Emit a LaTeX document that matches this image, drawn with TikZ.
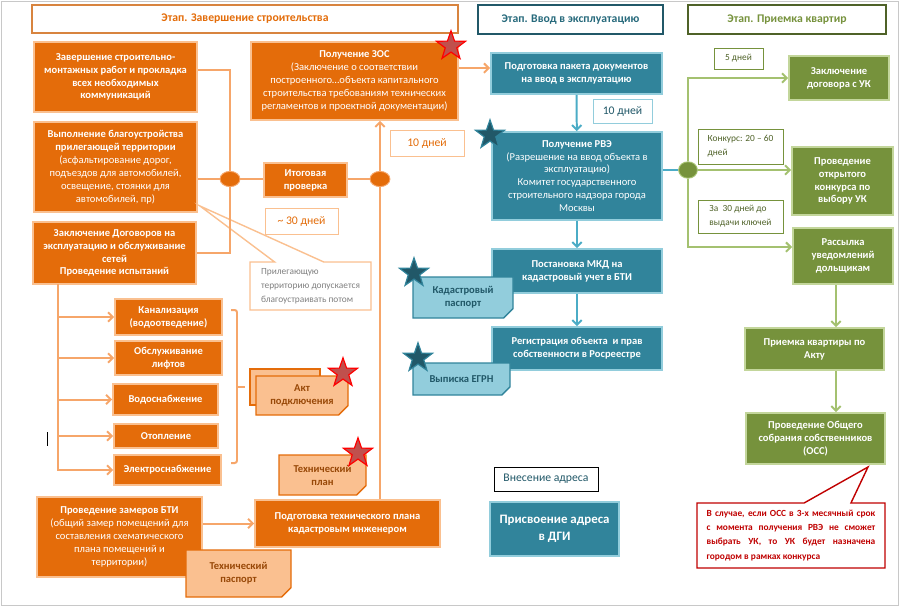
\documentclass[tikz,border=0pt]{standalone}
\usepackage{fontspec}
\setmainfont{Carlito}
\usepackage{tikz}
\usetikzlibrary{arrows.meta,shapes.geometric,shapes.misc,shapes.callouts}

\definecolor{orfill}{HTML}{E46C0A}
\definecolor{orline}{HTML}{FAC090}
\definecolor{orwire}{HTML}{F6A66A}
\definecolor{orhead}{HTML}{D8843F}
\definecolor{ortext}{HTML}{E36C09}
\definecolor{ornotetext}{HTML}{984807}
\definecolor{tlfill}{HTML}{31849B}
\definecolor{tlline}{HTML}{92CDDC}
\definecolor{tlwire}{HTML}{4BACC6}
\definecolor{tldark}{HTML}{215868}
\definecolor{grfill}{HTML}{76923C}
\definecolor{grline}{HTML}{C3D69B}
\definecolor{grwire}{HTML}{A4C170}
\definecolor{grhead}{HTML}{4F6228}
\definecolor{redline}{HTML}{C00000}
\definecolor{starred}{HTML}{C0504D}
\definecolor{framegray}{HTML}{C8C8C8}

\newcommand{\boxfont}{\fontsize{9}{11}\selectfont}
\newcommand{\headfont}{\fontsize{10}{12}\selectfont\bfseries}
\newcommand{\dayfont}{\fontsize{10}{12}\selectfont}
\newcommand{\callfont}{\fontsize{8}{12}\selectfont}

\tikzset{
  every node/.style={inner sep=0pt, align=center},
  spot/.style n args={4}{at={({(#1+#3)/2},{(#2+#4)/2})},
    minimum width={(#3-#1)*0.03cm}, minimum height={(#4-#2)*0.03cm}},
  stage/.style={draw, line width=2pt, fill=white, font=\headfont},
  obox/.style={fill=orfill, draw=orline, line width=1.5pt, text=white, font=\boxfont\bfseries},
  tbox/.style={obox, fill=tlfill, draw=tlline},
  gbox/.style={obox, fill=grfill, draw=grline},
  days/.style={draw, line width=0.8pt, fill=white, font=\dayfont},
  gdays/.style={days, draw=grfill, text=grhead, font=\callfont, align=left},
  note/.style={chamfered rectangle, chamfered rectangle corners=south east,
    chamfered rectangle xsep=4pt, chamfered rectangle ysep=4pt, line width=1.2pt,
    font=\boxfont\bfseries,
    path picture={\fill[#1] ([xshift=-4pt]path picture bounding box.south east)
      -- ([yshift=4pt]path picture bounding box.south east)
      -- ([xshift=-4pt,yshift=4pt]path picture bounding box.south east) -- cycle;}},
  onote/.style={note=orfill!60!orline, fill=orline, draw=orfill, text=ornotetext},
  tnote/.style={note=tlfill!60!tlline, fill=tlline, draw=tlfill, text=tldark},
  ojoin/.style={ellipse, fill=orfill, draw=orwire, line width=0.8pt, minimum width=17pt, minimum height=13pt},
  gjoin/.style={ellipse, fill=grfill, draw=grwire, line width=0.8pt, minimum width=16pt, minimum height=14pt},
  oline/.style={draw=orwire, line width=1.7pt},
  tline/.style={draw=tlwire, line width=1.7pt},
  gline/.style={draw=grwire, line width=1.7pt},
  oarrow/.style={oline, -{Straight Barb[length=4pt,width=8pt]}},
  tarrow/.style={tline, -{Straight Barb[length=4pt,width=8pt]}},
  garrow/.style={gline, -{Straight Barb[length=4pt,width=8pt]}},
  gcall/.style={rectangle callout, fill=white, draw=orline, line width=1.2pt, text=black!50,
    font=\callfont, align=left, callout pointer width=42pt},
  rcall/.style={rectangle callout, fill=white, draw=redline, line width=1.2pt, text=redline,
    font=\callfont\bfseries, text width=144pt, align=justify, callout pointer width=40pt},
  starshape/.style={star, star points=5, star point ratio=2.5, minimum size=26pt},
  redstar/.style={starshape, fill=starred, draw=red, line width=1pt},
  bluestar/.style={starshape, fill=tldark, draw=tlfill, line width=1pt}
}

\begin{document}
\begin{tikzpicture}[x=0.03cm, y=-0.03cm]
\useasboundingbox (0,0) rectangle (901,607);
\draw[framegray, line width=0.8pt] (1,1) rectangle (898,605);

\node[stage, draw=orhead, text=ortext, spot={32}{5}{458}{33}] (st1) {Этап. Завершение строительства};
\node[stage, draw=tldark, text=tlfill!80!black, spot={478}{5}{663}{34}] (st2) {Этап. Ввод в эксплуатацию};
\node[stage, draw=grhead, text=grfill, spot={688}{5}{886}{34}] (st3) {Этап. Приемка квартир};

\node[obox, spot={34}{42}{197}{112}] (b1) {Завершение строительно-\\монтажных работ и прокладка\\всех необходимых\\коммуникаций};
\node[obox, spot={34}{122}{197}{212}] (b2) {Выполнение благоустройства\\прилегающей территории\\\textmd{(асфальтирование дорог,}\\\textmd{подъездов для автомобилей,}\\\textmd{освещение, стоянки для}\\\textmd{автомобилей, пр)}};
\node[obox, spot={33}{222}{196}{284}] (b3) {Заключение Договоров на\\эксплуатацию и обслуживание\\сетей\\Проведение испытаний};
\node[obox, spot={251}{42}{458}{120}] (zos) {Получение ЗОС\\\textmd{(Заключение о соответствии}\\\textmd{построенного…объекта капитального}\\\textmd{строительства требованиям технических}\\\textmd{регламентов и проектной документации)}};
\node[obox, spot={264}{163}{347}{197}] (chk) {Итоговая\\проверка};
\node[days, draw=orline, text=ortext, spot={265}{208}{338}{234}] (d30) {\textasciitilde{} 30 дней};
\node[days, draw=orline, text=ortext, spot={390}{130}{464}{156}] (d10) {10 дней};
\coordinate (ctip) at (200,206);
\node[gcall, callout absolute pointer={(ctip)}, spot={250}{262}{371}{310}] (prim) {Прилегающую\\территорию допускается\\благоустраивать потом};

\node[obox, spot={115}{299}{222}{335}] (u1) {Канализация\\(водоотведение)};
\node[obox, spot={115}{341}{222}{375}] (u2) {Обслуживание\\лифтов};
\node[obox, spot={113}{384}{218}{415}] (u3) {Водоснабжение};
\node[obox, spot={114}{424}{218}{448}] (u4) {Отопление};
\node[obox, spot={114}{455}{221}{485}] (u5) {Электроснабжение};
\node[onote, spot={250}{369}{320}{405}] (akt0) {};
\node[onote, spot={256}{376}{348}{415}] (akt) {Акт\\подключения};
\node[onote, spot={279}{455}{366}{495}] (tplan) {Технический\\план};
\node[obox, spot={37}{497}{202}{577}] (bti) {Проведение замеров БТИ\\\textmd{(общий замер помещений для}\\\textmd{составления схематического}\\\textmd{плана помещений и}\\\textmd{территории)}};
\node[onote, spot={186}{550}{291}{597}] (tpass) {Технический\\паспорт};
\node[obox, spot={255}{500}{440}{547}] (tprep) {Подготовка технического плана\\кадастровым инженером};

\node[tbox, spot={491}{53}{662}{94}] (pack) {Подготовка пакета документов\\на ввод в эксплуатацию};
\node[days, draw=tlline, text=tldark, spot={593}{99}{652}{123}] (d10t) {10 дней};
\node[tbox, spot={492}{132}{662}{220}] (rve) {Получение РВЭ\\\textmd{(Разрешение на ввод объекта в}\\\textmd{эксплуатацию)}\\\textmd{Комитет государственного}\\\textmd{строительного надзора города}\\\textmd{Москвы}};
\node[tbox, spot={492}{249}{662}{293}] (mkd) {Постановка МКД на\\кадастровый учет в БТИ};
\node[tnote, spot={413}{277}{513}{318}] (kpas) {Кадастровый\\паспорт};
\node[tbox, spot={492}{327}{662}{370}] (reg) {Регистрация объекта\ \ и прав\\собственности в Росреестре};
\node[tnote, spot={413}{363}{510}{395}] (egrn) {Выписка ЕГРН};
\node[days, draw=black, text=tldark, spot={494}{467}{598}{491}] (adr) {Внесение адреса};
\node[tbox, font=\fontsize{11}{15}\selectfont\bfseries, spot={490}{502}{619}{556}] (dgi) {Присвоение адреса\\в ДГИ};

\node[gbox, spot={789}{56}{889}{100}] (gr1) {Заключение\\договора с УК};
\node[gbox, spot={792}{147}{893}{215}] (gr2) {Проведение\\открытого\\конкурса по\\выбору УК};
\node[gbox, spot={793}{228}{893}{284}] (gr3) {Рассылка\\уведомлений\\дольщикам};
\node[gbox, spot={745}{328}{884}{370}] (gr4) {Приемка квартиры по\\Акту};
\node[gbox, spot={746}{413}{885}{464}] (gr5) {Проведение Общего\\собрания собственников\\(ОСС)};
\node[gdays, spot={714}{48}{763}{69}] (d5) {5 дней};
\node[gdays, spot={698}{129}{783}{164}] (dk) {Конкурс: 20 – 60\\дней};
\node[gdays, spot={698}{200}{783}{233}] (dkey) {За\ \ 30 дней до\\выдачи ключей};
\coordinate (rtip) at (868,467);
\node[rcall, callout absolute pointer={(rtip)}, spot={697}{503}{885}{568}] (occ) {В случае, если ОСС в 3-х месячный срок\linebreak с момента получения РВЭ не сможет\linebreak выбрать УК, то УК будет назначена\linebreak городом в рамках конкурса};

\node[ojoin] (j1) at (230,179) {};
\node[ojoin] (j2) at (380,179) {};
\node[gjoin] (j3) at (688,170) {};

\draw[oline] ([yshift=6pt]b1.east) -| (j1);
\draw[oline] (j1) |- (b3.east);
\draw[oline] (b2.east |- j1) -- (j1);
\draw[oline] (j1) -- (chk.west |- j1);
\draw[oline] (chk.east |- j2) -- (j2);
\draw[oline] (tprep.north -| j2) -- (j2);
\draw[oarrow] (j2) -- (zos.south -| j2);
\coordinate (zout) at ([yshift=11pt]zos.east);
\draw[oarrow] (zout) -- (zout -| pack.west);
\coordinate (bus) at (58,284);
\draw[oarrow] (bus) |- (u5);
\foreach \u in {u1,u2,u3,u4}
  \draw[oarrow] (bus |- \u.west) -- (\u.west);
\draw[oarrow] (bti.east |- tprep) -- (tprep);
\draw[oline, rounded corners=2pt] (231,310) -| (237,463) -- (231,463);
\draw[oline] (237,387) -- (245,387);

\draw[tarrow] (pack) -- (rve);
\draw[tarrow] (rve) -- (mkd);
\draw[tarrow] (mkd) -- (reg);
\draw[tline] (rve.east |- j3) -- (j3);

\draw[garrow] (j3) |- (gr1);
\draw[garrow] (j3) -- (j3 -| gr2.west);
\coordinate (g3in) at ([yshift=7.6pt]gr3.west);
\draw[garrow] (j3) |- (g3in);
\coordinate (gx) at (836,300);
\draw[garrow] (gr3.south -| gx) -- (gr4.north -| gx);
\draw[garrow] (gr4.south -| gx) -- (gr5.north -| gx);

\draw[black, line width=0.7pt] (47,432) -- (47,446);

\node[redstar] (s1) at (451,46) {};
\node[redstar] (s2) at (343,373) {};
\node[redstar] (s3) at (358,453) {};
\node[bluestar] (s4) at (490,135) {};
\node[bluestar] (s5) at (414,273) {};
\node[bluestar] (s6) at (418,358) {};
\end{tikzpicture}
\end{document}
